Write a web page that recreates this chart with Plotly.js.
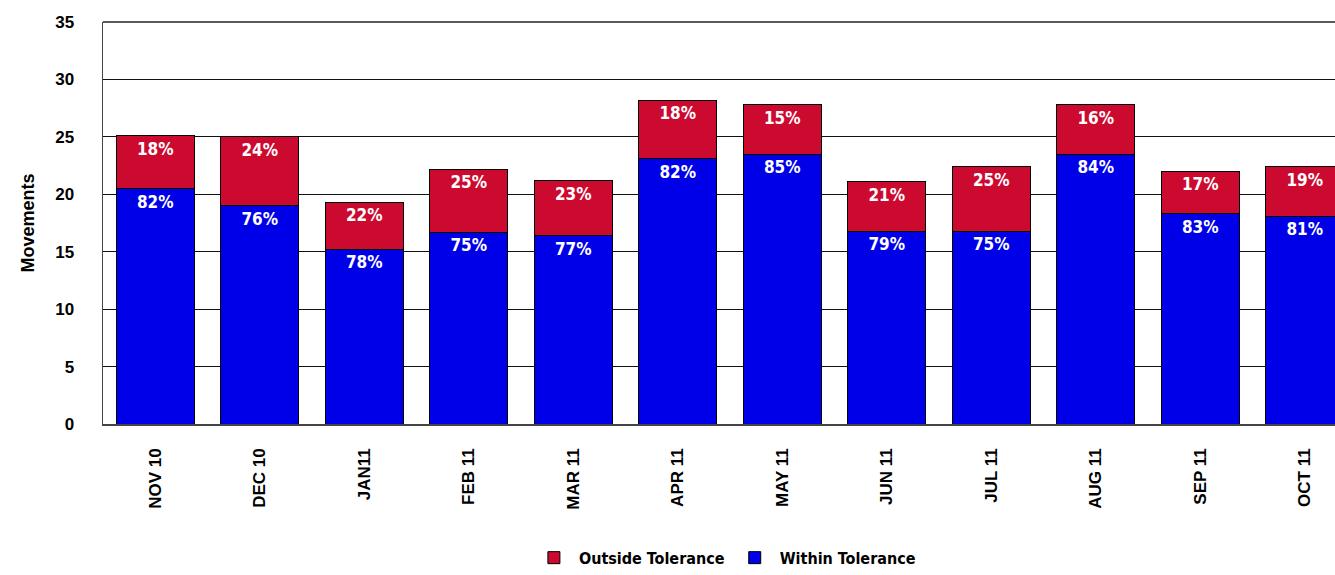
<!DOCTYPE html>
<html><head><meta charset="utf-8">
<script src="https://cdn.plot.ly/plotly-3.0.1.min.js"></script>
<style>html,body{margin:0;padding:0;background:#fff}#chart{width:1335px;height:575px}</style>
</head><body><div id="chart"></div>
<script>
const months = ["NOV 10","DEC 10","JAN11","FEB 11","MAR 11","APR 11","MAY 11","JUN 11","JUL 11","AUG 11","SEP 11","OCT 11"];
const within = [20.5,19.0,15.2,16.7,16.4,23.1,23.5,16.8,16.8,23.5,18.3,18.1];
const outside = [4.6,6.0,4.1,5.5,4.8,5.1,4.3,4.3,5.6,4.3,3.7,4.3];
const withinPct = ["82%","76%","78%","75%","77%","82%","85%","79%","75%","84%","83%","81%"];
const outsidePct = ["18%","24%","22%","25%","23%","18%","15%","21%","25%","16%","17%","19%"];

const narrow = "Liberation Sans Narrow, DejaVu Sans Condensed, Arial Narrow, Liberation Sans, Arial";
const labelFont = {family:narrow, size:17, color:"#ffffff", weight:"bold"};
const traces = [
  {type:"bar", name:"Within Tolerance", x:months, y:within, text:withinPct,
   textposition:"inside", insidetextanchor:"end", textfont:labelFont, textangle:0,
   marker:{color:"#0000e8", line:{color:"#000", width:1}}, hoverinfo:"y"},
  {type:"bar", name:"Outside Tolerance", x:months, y:outside, text:outsidePct,
   textposition:"inside", insidetextanchor:"end", textfont:labelFont, textangle:0,
   marker:{color:"#cc0a30", line:{color:"#000", width:1}}, hoverinfo:"y"}
];
const layout = {
  width:1335, height:575, barmode:"stack", bargap:0.25,
  margin:{l:103, r:0, t:22, b:151, autoexpand:false},
  paper_bgcolor:"#fff", plot_bgcolor:"#fff",
  font:{family:"Liberation Sans, Arial, sans-serif", color:"#000"},
  showlegend:true,
  legend:{orientation:"h", x:0.543, xref:"container", xanchor:"center", y:0.03, yref:"container", yanchor:"middle",
          traceorder:"reversed", itemwidth:40,
          font:{size:16, weight:"bold", family:narrow}},
  xaxis:{type:"category", range:[-0.5,11.29], tickangle:-90, showgrid:false, ticks:"", automargin:false,
         tickfont:{size:17, weight:"bold"}, showline:true, linecolor:"#444", linewidth:1.5, mirror:false,
         ticklabelstandoff:16},
  yaxis:{range:[0,35], dtick:5, showgrid:true, gridcolor:"#111", gridwidth:1, ticks:"", automargin:false,
         tickfont:{size:17, weight:"bold"}, showline:true, linecolor:"#444", linewidth:1.5,
         zeroline:false, ticklabelstandoff:24,
         title:{text:"Movements", font:{size:18, weight:"bold"}, standoff:16}},
  shapes:[{type:"line", xref:"paper", yref:"paper", x0:0, x1:1, y0:1, y1:1, line:{color:"#222", width:1.5}}]
};
Plotly.newPlot("chart", traces, layout, {displayModeBar:false, staticPlot:true});
</script></body></html>
